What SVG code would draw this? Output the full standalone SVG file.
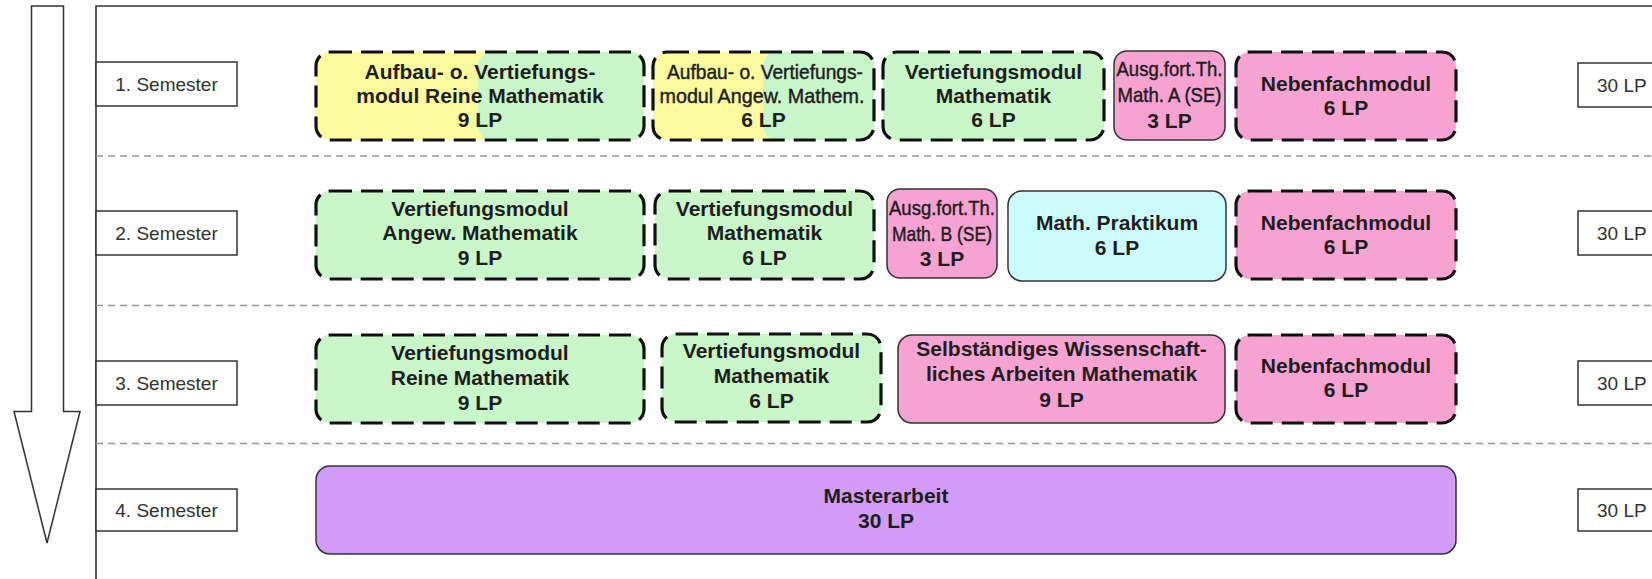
<svg xmlns="http://www.w3.org/2000/svg" width="1652" height="579" viewBox="0 0 1652 579">
<style>
.bg{fill:#ffffff}
.frame{fill:none;stroke:#333;stroke-width:1.6}
.sep{stroke:#999;stroke-width:1.4;stroke-dasharray:7 5;fill:none}
.lbl{fill:#fff;stroke:#333;stroke-width:1.5}
.lt{font-family:"Liberation Sans",Arial,sans-serif;font-size:19px;fill:#333;text-anchor:middle}
.lt30{font-family:"Liberation Sans",Arial,sans-serif;font-size:19px;fill:#333;text-anchor:start}
.t{font-family:"Liberation Sans",Arial,sans-serif;font-size:21px;font-weight:bold;fill:#1e1e1e;text-anchor:middle}
.tn{font-family:"Liberation Sans",Arial,sans-serif;font-size:21px;fill:#1e1e1e;stroke:#1e1e1e;stroke-width:0.45;text-anchor:middle}
.dash{fill:none;stroke:#111;stroke-width:3.2;stroke-dasharray:22 9}
.solid{stroke:#333;stroke-width:1.5}
.yel{fill:#fbfb9e}
.grn{fill:#c8f6c8}
.pnk{fill:#f7a3d1}
.cyn{fill:#ccfdfd}
.pur{fill:#d09cf7}
</style>
<rect class="bg" x="0" y="0" width="1652" height="579"/>
<g id="timeline-arrow">
<polygon points="31.5,6 63.5,6 63.5,411.5 80,411.5 47,543 14,411.5 31.5,411.5" fill="#fff" stroke="#333" stroke-width="1.5"/>
</g>
<g id="frame">
<path class="frame" d="M96,579 V6 H1652"/>
</g>
<g id="separators">
<line class="sep" x1="96" y1="156" x2="1652" y2="156"/>
<line class="sep" x1="96" y1="305.5" x2="1652" y2="305.5"/>
<line class="sep" x1="96" y1="443.5" x2="1652" y2="443.5"/>
</g>
<g id="semester-labels">
<g id="sem1"><rect class="lbl" x="96" y="62" width="141" height="44"/><text class="lt" x="166.5" y="90.5">1. Semester</text></g>
<g id="sem2"><rect class="lbl" x="96" y="211" width="141" height="44"/><text class="lt" x="166.5" y="239.5">2. Semester</text></g>
<g id="sem3"><rect class="lbl" x="96" y="361" width="141" height="44"/><text class="lt" x="166.5" y="389.5">3. Semester</text></g>
<g id="sem4"><rect class="lbl" x="96" y="489" width="141" height="42"/><text class="lt" x="166.5" y="516.5">4. Semester</text></g>
</g>
<g id="lp-labels">
<g id="lp1"><rect class="lbl" x="1578" y="63" width="90" height="44"/><text class="lt30" x="1597" y="91.5">30 LP</text></g>
<g id="lp2"><rect class="lbl" x="1578" y="211" width="90" height="44"/><text class="lt30" x="1597" y="239.5">30 LP</text></g>
<g id="lp3"><rect class="lbl" x="1578" y="361" width="90" height="44"/><text class="lt30" x="1597" y="389.5">30 LP</text></g>
<g id="lp4"><rect class="lbl" x="1578" y="489" width="90" height="42"/><text class="lt30" x="1597" y="516.5">30 LP</text></g>
</g>
<g id="connectors"></g>
<!-- Row 1 -->
<g id="r1-aufbau-reine">
<rect class="yel" x="316" y="52" width="328" height="88" rx="14"/>
<rect class="grn" x="478" y="52" width="166" height="88" rx="14"/>
<rect class="dash" x="316" y="52" width="328" height="88" rx="14"/>
<text class="t" x="480" y="79">Aufbau- o. Vertiefungs-</text>
<text class="t" x="480" y="103">modul Reine Mathematik</text>
<text class="t" x="480" y="127">9 LP</text>
</g>
<g id="r1-aufbau-angew">
<rect class="yel" x="653" y="52" width="221" height="88" rx="14"/>
<rect class="grn" x="763" y="52" width="111" height="88" rx="14"/>
<rect class="dash" x="653" y="52" width="221" height="88" rx="14"/>
<text class="tn" x="765" y="79" textLength="196" lengthAdjust="spacingAndGlyphs">Aufbau- o. Vertiefungs-</text>
<text class="tn" x="762" y="103" textLength="205" lengthAdjust="spacingAndGlyphs">modul Angew. Mathem.</text>
<text class="t" x="763.5" y="127">6 LP</text>
</g>
<g id="r1-vert-math">
<rect class="grn" x="883" y="52" width="221" height="88" rx="14"/>
<rect class="dash" x="883" y="52" width="221" height="88" rx="14"/>
<text class="t" x="993.5" y="79">Vertiefungsmodul</text>
<text class="t" x="993.5" y="103">Mathematik</text>
<text class="t" x="993.5" y="127">6 LP</text>
</g>
<g id="r1-ausg-a">
<rect class="pnk solid" x="1114" y="51" width="111" height="89" rx="13"/>
<text class="tn" x="1169.5" y="76" textLength="106" lengthAdjust="spacingAndGlyphs">Ausg.fort.Th.</text>
<text class="tn" x="1169.5" y="102" textLength="104" lengthAdjust="spacingAndGlyphs">Math. A (SE)</text>
<text class="t" x="1169.5" y="128">3 LP</text>
</g>
<g id="r1-nebenfach">
<rect class="pnk" x="1236" y="52" width="220" height="88" rx="14"/>
<rect class="dash" x="1236" y="52" width="220" height="88" rx="14"/>
<text class="t" x="1346" y="91">Nebenfachmodul</text>
<text class="t" x="1346" y="115">6 LP</text>
</g>
<!-- Row 2 -->
<g id="r2-vert-angew">
<rect class="grn" x="316" y="191" width="328" height="88" rx="14"/>
<rect class="dash" x="316" y="191" width="328" height="88" rx="14"/>
<text class="t" x="480" y="216">Vertiefungsmodul</text>
<text class="t" x="480" y="240">Angew. Mathematik</text>
<text class="t" x="480" y="265">9 LP</text>
</g>
<g id="r2-vert-math">
<rect class="grn" x="655" y="191" width="219" height="88" rx="14"/>
<rect class="dash" x="655" y="191" width="219" height="88" rx="14"/>
<text class="t" x="764.5" y="216">Vertiefungsmodul</text>
<text class="t" x="764.5" y="240">Mathematik</text>
<text class="t" x="764.5" y="265">6 LP</text>
</g>
<g id="r2-ausg-b">
<rect class="pnk solid" x="887" y="189" width="110" height="89" rx="13"/>
<text class="tn" x="942" y="215" textLength="106" lengthAdjust="spacingAndGlyphs">Ausg.fort.Th.</text>
<text class="tn" x="942" y="241" textLength="100" lengthAdjust="spacingAndGlyphs">Math. B (SE)</text>
<text class="t" x="942" y="266">3 LP</text>
</g>
<g id="r2-praktikum">
<rect class="cyn solid" x="1008" y="191" width="218" height="90" rx="14"/>
<text class="t" x="1117" y="230">Math. Praktikum</text>
<text class="t" x="1117" y="255">6 LP</text>
</g>
<g id="r2-nebenfach">
<rect class="pnk" x="1236" y="191" width="220" height="88" rx="14"/>
<rect class="dash" x="1236" y="191" width="220" height="88" rx="14"/>
<text class="t" x="1346" y="230">Nebenfachmodul</text>
<text class="t" x="1346" y="254">6 LP</text>
</g>
<!-- Row 3 -->
<g id="r3-vert-reine">
<rect class="grn" x="316" y="335" width="328" height="88" rx="14"/>
<rect class="dash" x="316" y="335" width="328" height="88" rx="14"/>
<text class="t" x="480" y="360">Vertiefungsmodul</text>
<text class="t" x="480" y="385">Reine Mathematik</text>
<text class="t" x="480" y="410">9 LP</text>
</g>
<g id="r3-vert-math">
<rect class="grn" x="662" y="334" width="219" height="88" rx="14"/>
<rect class="dash" x="662" y="334" width="219" height="88" rx="14"/>
<text class="t" x="771.5" y="358">Vertiefungsmodul</text>
<text class="t" x="771.5" y="383">Mathematik</text>
<text class="t" x="771.5" y="408">6 LP</text>
</g>
<g id="r3-selbst">
<rect class="pnk solid" x="898" y="335" width="327" height="88" rx="14"/>
<text class="t" x="1061.5" y="356">Selbständiges Wissenschaft-</text>
<text class="t" x="1061.5" y="381">liches Arbeiten Mathematik</text>
<text class="t" x="1061.5" y="407">9 LP</text>
</g>
<g id="r3-nebenfach">
<rect class="pnk" x="1236" y="335" width="220" height="88" rx="14"/>
<rect class="dash" x="1236" y="335" width="220" height="88" rx="14"/>
<text class="t" x="1346" y="373">Nebenfachmodul</text>
<text class="t" x="1346" y="397">6 LP</text>
</g>
<!-- Row 4 -->
<g id="r4-masterarbeit">
<rect class="pur solid" x="316" y="466" width="1140" height="88" rx="14"/>
<text class="t" x="886" y="503">Masterarbeit</text>
<text class="t" x="886" y="528">30 LP</text>
</g>
</svg>
